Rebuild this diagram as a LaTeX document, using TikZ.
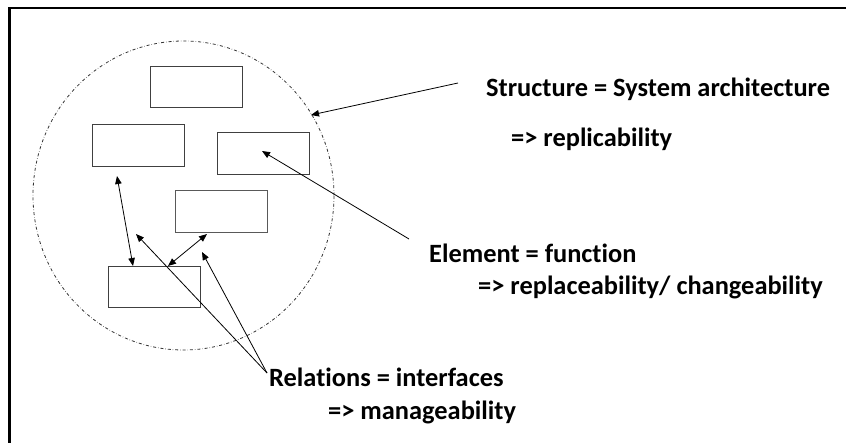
\documentclass[tikz,border=0pt]{standalone}
\usepackage{fontspec}
\setmainfont{Carlito}[RawFeature=-liga]
\usetikzlibrary{arrows.meta}

\begin{document}
\begin{tikzpicture}[x=1pt,y=-1pt,
  box/.style={draw=black!75, line width=1pt, minimum width=92pt, minimum height=41.5pt, inner sep=0pt},
  lbl/.style={font=\bfseries\fontsize{26.4}{30}\selectfont, anchor=base west, inner sep=0pt},
  arr/.style={-{Triangle[length=8pt,width=6.5pt]}, line width=0.8pt},
  darr/.style={{Triangle[length=8pt,width=6.5pt]}-{Triangle[length=8pt,width=6.5pt]}, line width=0.8pt}]
\useasboundingbox (0,0) rectangle (846,443);

% outer frame (only top and left edges fall inside the page)
\draw[line width=2.4pt] (9.5,470) -- (9.5,8) -- (870,8);

% system boundary
\draw[dash dot, line width=0.8pt, black!80] (183.5,195.5) ellipse [x radius=150.5pt, y radius=154.5pt];

% elements
\node[box] (b1) at (196,87) {};
\node[box] (b2) at (138,145.5) {};
\node[box] (b3) at (263,153.5) {};
\node[box, draw=black!65] (b4) at (221.5,211.5) {};
\node[box] (b5) at (154.5,287) {};

% labels
\node[lbl] (structure) at (486,97) {Structure = System architecture};
\node[lbl] (replic) at (511,147) {=> replicability};
\node[lbl] (element) at (429,263) {Element = function};
\node[lbl] (replace) at (478,295) {=> replaceability/ changeability};
\node[lbl] (relations) at (269,387) {Relations = interfaces};
\node[lbl] (manage) at (328,419) {=> manageability};

% connector end points
\coordinate (sStart) at (458,83);
\coordinate (sEnd) at (311,115);
\coordinate (eStart) at (409,239);
\coordinate (eEnd) at (262,151);
\coordinate (rStart) at (267,373);
\coordinate (r1) at (136,234);
\coordinate (r2) at (202,252);
\coordinate (b2low) at (117,176);
\coordinate (b5topA) at (133,266);
\coordinate (b4low) at (207,234);
\coordinate (b5topB) at (168,266);

% connectors
\draw[arr] (sStart) -- (sEnd);
\draw[arr] (eStart) -- (eEnd);
\draw[darr] (b2low) -- (b5topA);
\draw[darr] (b4low) -- (b5topB);
\draw[arr] (rStart) -- (r1);
\draw[arr] (rStart) -- (r2);
\end{tikzpicture}
\end{document}
